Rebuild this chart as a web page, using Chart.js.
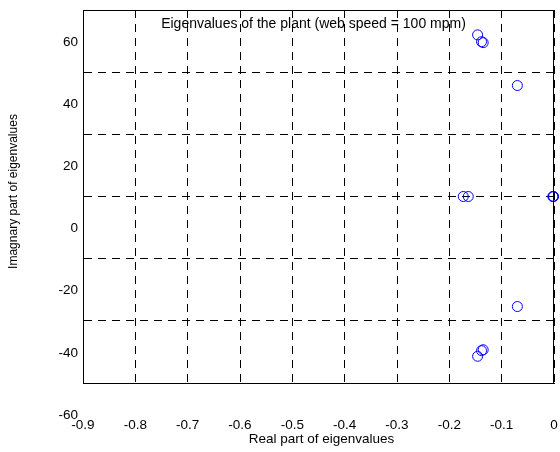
<!DOCTYPE html>
<html lang="en">
<head>
    <meta charset="UTF-8">
    <title>Eigenvalues of the plant</title>
    <script src="https://cdn.jsdelivr.net/npm/chart.js"></script>
    <style>
        body {
            margin: 0;
            background-color: #fff;
        }
        canvas {
            display: block;
        }
    </style>
</head>
<body>
    <canvas id="eigChart" width="560" height="452"></canvas>
    <script>
        // eigenvalues (real, imaginary)
        const realParts = [-0.146, -0.1385, -0.1353, -0.070, -0.1734, -0.1638, -0.0022, -0.0015, -0.0008, -0.070, -0.146, -0.1385, -0.1353];
        const imagParts = [62.0, 59.8, 59.5, 45.7, 10.0, 10.0, 10.0, 10.0, 10.0, -25.4, -41.4, -39.6, -39.3];

        const xTickValues = [-0.9, -0.8, -0.7, -0.6, -0.5, -0.4, -0.3, -0.2, -0.1, 0];
        const xTickLabels = ['-0.9', '-0.8', '-0.7', '-0.6', '-0.5', '-0.4', '-0.3', '-0.2', '-0.1', '0'];
        const yGridValues = [-30, -10, 10, 30, 50];
        const yTickValues = [60, 40, 20, 0, -20, -40, -60];
        const yTickLabels = ['60', '40', '20', '0', '-20', '-40', '-60'];

        const titleText = 'Eigenvalues of the plant (web speed = 100 mpm)';
        const xTitle = 'Real part of eigenvalues';
        const yTitle = 'Imagnary part of eigenvalues';

        const FONT = '"Liberation Sans", Arial, sans-serif';

        const points = realParts.map((x, i) => ({ x: x, y: imagParts[i] }));

        // labels, frame and titles drawn from the scales
        const matlabAxes = {
            id: 'matlabAxes',
            afterDatasetsDraw(chart) {
                const { ctx, chartArea, scales } = chart;
                const xs = scales.x, ys = scales.y;
                ctx.save();
                ctx.strokeStyle = '#000';
                ctx.lineWidth = 1;
                ctx.setLineDash([]);
                ctx.strokeRect(Math.round(chartArea.left) + 0.5, Math.round(chartArea.top) + 0.5,
                    Math.round(chartArea.right - chartArea.left) - 1, Math.round(chartArea.bottom - chartArea.top));
                ctx.fillStyle = '#000';

                ctx.font = '14px ' + FONT;
                ctx.textAlign = 'center';
                ctx.textBaseline = 'middle';
                ctx.fillText(titleText, (chartArea.left + chartArea.right) / 2 - 5, chartArea.top + 14);

                ctx.font = '13.5px ' + FONT;
                ctx.textAlign = 'right';
                yTickValues.forEach((v, i) => {
                    ctx.fillText(yTickLabels[i], chartArea.left - 5, ys.getPixelForValue(v) + 1);
                });
                ctx.textAlign = 'center';
                xTickValues.forEach((v, i) => {
                    ctx.fillText(xTickLabels[i], xs.getPixelForValue(v), chartArea.bottom + 42);
                });
                ctx.fillText(xTitle, (chartArea.left + chartArea.right) / 2 + 3, chartArea.bottom + 56);

                ctx.font = '12px ' + FONT;
                ctx.translate(14, (chartArea.top + chartArea.bottom) / 2 - 5);
                ctx.rotate(-Math.PI / 2);
                ctx.fillText(yTitle, 0, 0);
                ctx.restore();
            }
        };

        new Chart(document.getElementById('eigChart'), {
            type: 'scatter',
            data: {
                datasets: [{
                    label: 'eigenvalues',
                    data: points,
                    pointStyle: 'circle',
                    pointRadius: 5,
                    pointHoverRadius: 5,
                    borderColor: '#0000ff',
                    backgroundColor: 'rgba(0,0,0,0)',
                    borderWidth: 1,
                    clip: false
                }]
            },
            options: {
                responsive: false,
                animation: false,
                devicePixelRatio: 1,
                events: [],
                layout: {
                    padding: { left: 83, top: 10, right: 4, bottom: 69 }
                },
                plugins: {
                    legend: { display: false },
                    tooltip: { enabled: false },
                    title: { display: false }
                },
                scales: {
                    x: {
                        type: 'linear',
                        min: -0.9,
                        max: 0,
                        afterBuildTicks: scale => {
                            scale.ticks = xTickValues.map(v => ({ value: v }));
                        },
                        ticks: { display: false },
                        grid: { color: '#000', lineWidth: 1, drawTicks: false },
                        border: { display: true, color: '#000', width: 1, dash: [8, 6] }
                    },
                    y: {
                        type: 'linear',
                        min: -50,
                        max: 70,
                        afterBuildTicks: scale => {
                            scale.ticks = yGridValues.map(v => ({ value: v }));
                        },
                        ticks: { display: false },
                        grid: { color: '#000', lineWidth: 1, drawTicks: false },
                        border: { display: true, color: '#000', width: 1, dash: [8, 6] }
                    }
                }
            },
            plugins: [matlabAxes]
        });
    </script>
</body>
</html>
